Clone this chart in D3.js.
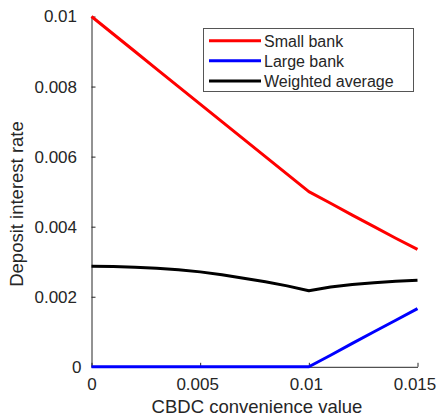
<!DOCTYPE html>
<html>
<head>
<meta charset="utf-8">
<script src="https://cdn.jsdelivr.net/npm/d3@7"></script>
<style>
  html, body { margin: 0; padding: 0; background: #fff; }
  svg { display: block; font-family: "Liberation Sans", Arial, Helvetica, sans-serif; }
</style>
</head>
<body>
<svg id="chart" width="437" height="417"></svg>
<script>
// CBDC convenience value (x) and the resulting deposit rates for each bank type
const cbdcValues = [0, 0.001, 0.002, 0.003, 0.004, 0.005, 0.006, 0.007, 0.008, 0.009, 0.010, 0.011, 0.012, 0.013, 0.014, 0.015];
const smallBank = [0.0100, 0.0095, 0.0090, 0.0085, 0.0080, 0.0075, 0.0070, 0.0065, 0.0060, 0.0055, 0.0050, 0.00467, 0.00433, 0.00400, 0.00367, 0.00335];
const largeBank = [0, 0, 0, 0, 0, 0, 0, 0, 0, 0, 0, 0.00033, 0.00067, 0.00100, 0.00133, 0.00166];
const weightedAvg = [0.00287, 0.00286, 0.00284, 0.00281, 0.00277, 0.00271, 0.00263, 0.00253, 0.00243, 0.00231, 0.00217, 0.00228, 0.00235, 0.00240, 0.00244, 0.00247];

const seriesNames = ["Small bank", "Large bank", "Weighted average"];
const seriesColors = ["#ff0000", "#0000ff", "#000000"];

const xTickValues = [0, 0.005, 0.01, 0.015];
const xTickLabels = ["0", "0.005", "0.01", "0.015"];
const yTickValues = [0, 0.002, 0.004, 0.006, 0.008, 0.01];
const yTickLabels = ["0", "0.002", "0.004", "0.006", "0.008", "0.01"];

const xLabel = "CBDC convenience value";
const yLabel = "Deposit interest rate";

const svg = d3.select("#chart");
const textColor = "#262626";

const x = d3.scaleLinear().domain([0, 0.015]).range([91.5, 417.5]);
const y = d3.scaleLinear().domain([0, 0.01]).range([366.8, 16.5]);

// Axes with inward ticks
const xAxis = d3.axisBottom(x)
  .tickValues(xTickValues)
  .tickFormat((d, i) => xTickLabels[i])
  .tickSizeInner(-4).tickSizeOuter(0).tickPadding(11);
const yAxis = d3.axisLeft(y)
  .tickValues(yTickValues)
  .tickFormat((d, i) => yTickLabels[i])
  .tickSizeInner(-4).tickSizeOuter(0).tickPadding(14.5);

const gx = svg.append("g").attr("transform", `translate(0,${y(0)})`).call(xAxis);
const gy = svg.append("g").attr("transform", `translate(${x(0)},0)`).call(yAxis);

[gx, gy].forEach(g => {
  g.select(".domain").attr("stroke", textColor).attr("stroke-width", 1);
  g.selectAll(".tick line").attr("stroke", textColor).attr("stroke-width", 1);
  g.selectAll(".tick text").attr("fill", textColor).attr("font-size", 17)
    .attr("font-family", "Liberation Sans, Arial, sans-serif");
});
gx.selectAll(".tick text").attr("dx", d => d === 0 ? 0 : -3);
gy.selectAll(".tick text").attr("dx", d => d === 0 ? 4.5 : 0);

// Axis titles
svg.append("text")
  .attr("x", 257).attr("y", 412.5)
  .attr("text-anchor", "middle")
  .attr("font-size", 18.5)
  .attr("fill", textColor)
  .text(xLabel);

svg.append("text")
  .attr("transform", "translate(23,204) rotate(-90)")
  .attr("text-anchor", "middle")
  .attr("font-size", 18.5)
  .attr("fill", textColor)
  .text(yLabel);

// Series lines (piecewise linear, sharp kink where the large bank starts paying)
const allSeries = [smallBank, largeBank, weightedAvg];
const line = d3.line()
  .x((d, i) => x(cbdcValues[i]))
  .y(d => y(d));

allSeries.forEach((vals, k) => {
  svg.append("path")
    .datum(vals)
    .attr("fill", "none")
    .attr("stroke", seriesColors[k])
    .attr("stroke-width", 3)
    .attr("stroke-linejoin", "round")
    .attr("d", line);
});

// Legend
const legend = svg.append("g");
legend.append("rect")
  .attr("x", 203.5).attr("y", 28.5)
  .attr("width", 210).attr("height", 63)
  .attr("fill", "#fff")
  .attr("stroke", "#555")
  .attr("stroke-width", 1);

const rowY = [40.7, 60.8, 81];
seriesNames.forEach((name, k) => {
  legend.append("line")
    .attr("x1", 209).attr("x2", 261)
    .attr("y1", rowY[k]).attr("y2", rowY[k])
    .attr("stroke", seriesColors[k])
    .attr("stroke-width", 3);
  legend.append("text")
    .attr("x", 264).attr("y", rowY[k] + 6)
    .attr("font-size", 16)
    .attr("fill", textColor)
    .text(name);
});
</script>
</body>
</html>
